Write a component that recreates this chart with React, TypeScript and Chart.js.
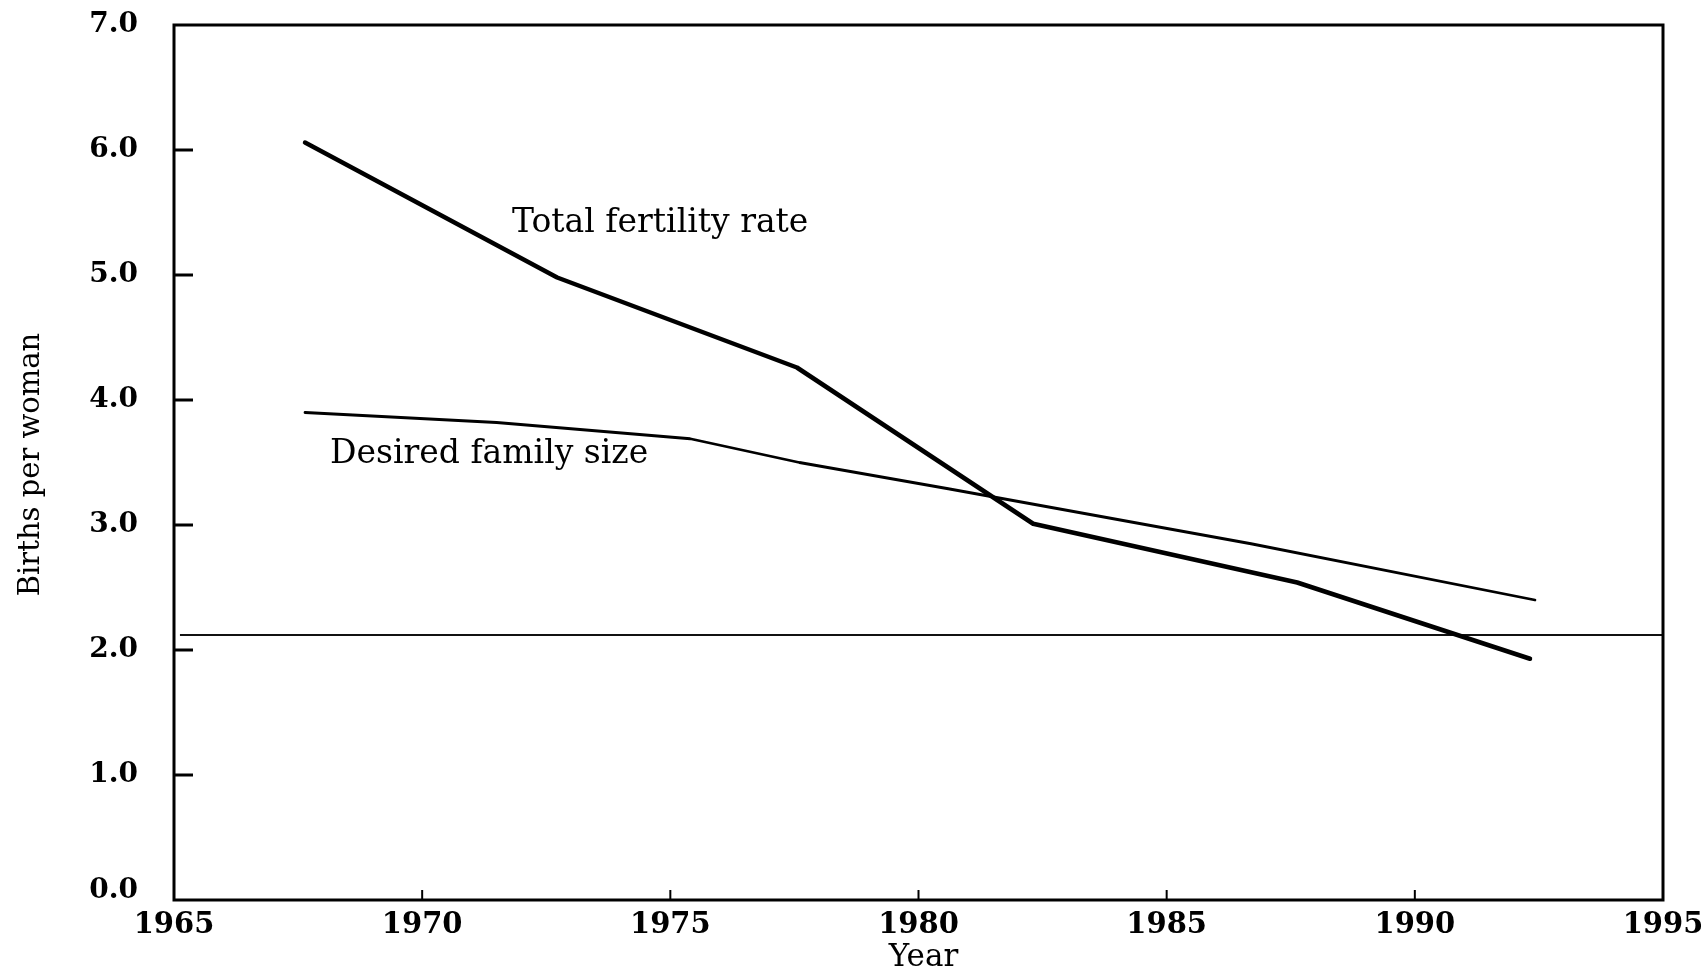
import React, { useEffect, useRef } from 'react';
import { Chart, registerables } from 'chart.js';

Chart.register(...registerables);

// Total fertility rate (births per woman)
const TFR_YEARS = [1967.64, 1972.72, 1977.55, 1982.31, 1987.63, 1992.32];
const TFR_VALUES = [6.06, 4.98, 4.26, 3.01, 2.54, 1.93];

// Desired family size
const DFS_YEARS = [1967.64, 1971.5, 1975.4, 1977.6, 1980.6, 1986.7, 1992.42];
const DFS_VALUES = [3.9, 3.82, 3.69, 3.5, 3.29, 2.85, 2.4];

// Replacement-level reference line
const REF_YEARS = [1965.12, 1995];
const REF_VALUES = [2.12, 2.12];

const X_TICKS = [1965, 1970, 1975, 1980, 1985, 1990, 1995];
const X_TICK_LABELS = ['1965', '1970', '1975', '1980', '1985', '1990', '1995'];
const Y_TICKS = [0, 1, 2, 3, 4, 5, 6, 7];
const Y_TICK_LABELS = ['0.0', '1.0', '2.0', '3.0', '4.0', '5.0', '6.0', '7.0'];

const X_TITLE = 'Year';
const Y_TITLE = 'Births per woman';
const LABEL_TFR = 'Total fertility rate';
const LABEL_DFS = 'Desired family size';

const SERIF = '"DejaVu Serif", serif';

const toPoints = (xs: number[], ys: number[]) => xs.map((x, i) => ({ x, y: ys[i] }));

const decor = {
  id: 'decor',
  afterDatasetsDraw(chart: any) {
    const ctx = chart.ctx as CanvasRenderingContext2D;
    const { left, right, top, bottom } = chart.chartArea;
    const xs = chart.scales.x;
    const ys = chart.scales.y;
    ctx.save();
    ctx.strokeStyle = '#000';
    ctx.fillStyle = '#000';
    ctx.lineCap = 'butt';

    // inward y ticks
    ctx.lineWidth = 3;
    Y_TICKS.forEach((v) => {
      if (v === Y_TICKS[0] || v === Y_TICKS[Y_TICKS.length - 1]) return;
      const py = ys.getPixelForValue(v);
      ctx.beginPath();
      ctx.moveTo(left, py);
      ctx.lineTo(left + 19, py);
      ctx.stroke();
    });
    // inward x ticks
    ctx.lineWidth = 2;
    X_TICKS.forEach((v) => {
      if (v === X_TICKS[0] || v === X_TICKS[X_TICKS.length - 1]) return;
      const px = xs.getPixelForValue(v);
      ctx.beginPath();
      ctx.moveTo(px, bottom);
      ctx.lineTo(px, bottom - 10);
      ctx.stroke();
    });
    // frame
    ctx.lineWidth = 3;
    ctx.strokeRect(left, top, right - left, bottom - top);

    // 0.0 label (raised a little, as in the original)
    ctx.font = `bold 28px ${SERIF}`;
    ctx.textAlign = 'right';
    ctx.textBaseline = 'middle';
    ctx.fillText(Y_TICK_LABELS[0], left - 36, ys.getPixelForValue(Y_TICKS[0]) - 9);

    // axis titles
    ctx.font = `31px ${SERIF}`;
    ctx.textAlign = 'center';
    ctx.textBaseline = 'alphabetic';
    ctx.fillText(X_TITLE, (left + right) / 2 + 5, 966);

    ctx.save();
    ctx.translate(31, (top + bottom) / 2 + 2);
    ctx.rotate(-Math.PI / 2);
    ctx.font = `29px ${SERIF}`;
    ctx.textBaseline = 'middle';
    ctx.textAlign = 'center';
    ctx.fillText(Y_TITLE, 0, 0);
    ctx.restore();

    // series annotations
    ctx.font = `33px ${SERIF}`;
    ctx.textAlign = 'left';
    ctx.textBaseline = 'alphabetic';
    ctx.fillText(LABEL_TFR, 512, 232);
    ctx.fillText(LABEL_DFS, 330, 463);
    ctx.restore();
  },
};

export default function App() {
  const ref = useRef<HTMLCanvasElement | null>(null);

  useEffect(() => {
    document.body.style.margin = '0';
    const canvas = ref.current;
    if (!canvas) return;
    const chart = new Chart(canvas, {
      type: 'line',
      data: {
        datasets: [
          {
            label: LABEL_TFR,
            data: toPoints(TFR_YEARS, TFR_VALUES),
            borderColor: '#000',
            borderWidth: 4.5,
            pointRadius: 0,
            tension: 0,
            borderCapStyle: 'round',
            borderJoinStyle: 'round',
          },
          {
            label: LABEL_DFS,
            data: toPoints(DFS_YEARS, DFS_VALUES),
            borderColor: '#000',
            borderWidth: 2.8,
            pointRadius: 0,
            tension: 0,
            borderCapStyle: 'round',
            borderJoinStyle: 'round',
          },
          {
            label: 'Replacement level',
            data: toPoints(REF_YEARS, REF_VALUES),
            borderColor: '#111',
            borderWidth: 1.8,
            pointRadius: 0,
            tension: 0,
          },
        ],
      },
      options: {
        responsive: false,
        animation: false,
        events: [],
        layout: { padding: { left: 0, top: 25, right: 38, bottom: 0 } },
        plugins: {
          legend: { display: false },
          tooltip: { enabled: false },
          title: { display: false },
        },
        scales: {
          x: {
            type: 'linear',
            min: 1965,
            max: 1995,
            grid: { display: false, drawTicks: false },
            border: { display: false },
            ticks: {
              color: '#000',
              font: { family: SERIF, size: 29, weight: 'bold' },
              padding: 8,
              autoSkip: false,
              maxRotation: 0,
              callback: (v: any) => {
                const i = X_TICKS.indexOf(Number(v));
                return i >= 0 ? X_TICK_LABELS[i] : '';
              },
            },
            afterBuildTicks: (s: any) => {
              s.ticks = X_TICKS.map((value) => ({ value }));
            },
            afterFit: (s: any) => {
              s.height = 69;
              s.paddingLeft = 0;
              s.paddingRight = 0;
            },
          },
          y: {
            type: 'linear',
            min: 0,
            max: 7,
            grid: { display: false, drawTicks: false },
            border: { display: false },
            ticks: {
              color: '#000',
              font: { family: SERIF, size: 28, weight: 'bold' },
              padding: 36,
              autoSkip: false,
              callback: (v: any) => {
                const i = Y_TICKS.indexOf(Number(v));
                if (i <= 0) return '';
                return Y_TICK_LABELS[i];
              },
            },
            afterBuildTicks: (s: any) => {
              s.ticks = Y_TICKS.map((value) => ({ value }));
            },
            afterFit: (s: any) => {
              s.width = 174;
              s.paddingTop = 0;
              s.paddingBottom = 0;
            },
          },
        },
      },
      plugins: [decor],
    } as any);
    return () => chart.destroy();
  }, []);

  return (
    <canvas
      ref={ref}
      width={1701}
      height={969}
      style={{ display: 'block', width: 1701, height: 969, background: '#fff' }}
    />
  );
}
